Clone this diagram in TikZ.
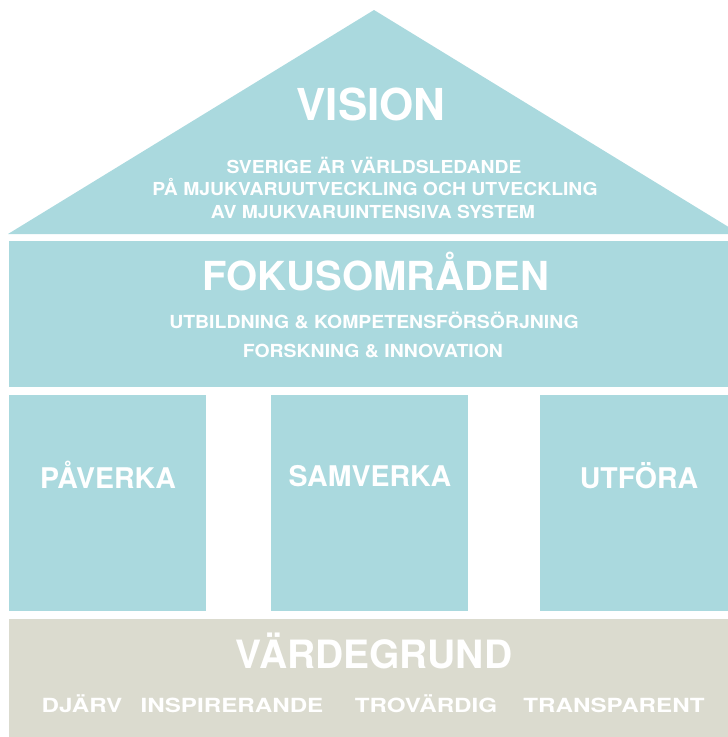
\documentclass[tikz,border=0pt]{standalone}
\usepackage{fontspec}
\setmainfont{TeX Gyre Heros}
\newfontfamily\linefont{TeX Gyre Heros}[FakeStretch=1.08]
\newfontfamily\valuefont{TeX Gyre Heros}[FakeStretch=1.24]
\definecolor{houseblue}{HTML}{AAD9DE}
\definecolor{basegray}{HTML}{DBDBCF}

\begin{document}
\begin{tikzpicture}[x=1pt,y=-1pt,
  part/.style={fill=houseblue},
  label/.style={anchor=base,text=white,inner sep=0,font=\bfseries\fontsize{#1}{#1}\selectfont},
  line/.style={anchor=base,text=white,inner sep=0,font=\linefont\bfseries\fontsize{#1}{#1}\selectfont},
  value/.style={anchor=base,text=white,inner sep=0,font=\valuefont\bfseries\fontsize{19.5}{19.5}\selectfont}]
\useasboundingbox (0,0) rectangle (728,737);
\clip (0,0) rectangle (728,737);
% roof, beam, pillars, ground
\fill[part] (8,234) -- (374,10) -- (740,234) -- cycle;
\fill[part] (9,241) rectangle (730,387);
\foreach \xa/\xb in {9/206, 271/468, 540/730}
 \fill[part] (\xa,395) rectangle (\xb,611);
\fill[basegray] (9,619) rectangle (730,737);
% vision
\node[label=44] (vision) at (371,120) {VISION};
\node[line=17.9] (visa) at (374,173) {SVERIGE ÄR VÄRLDSLEDANDE};
\node[line=17.9] (visb) at (375,195) {PÅ MJUKVARUUTVECKLING OCH UTVECKLING};
\node[line=17.9] (visc) at (373,218) {AV MJUKVARUINTENSIVA SYSTEM};
% fokus
\node[label=40] (fokus) at (376,290) {FOKUSOMRÅDEN};
\node[line=18] (fokusa) at (374,328) {UTBILDNING \& KOMPETENSFÖRSÖRJNING};
\node[line=18] (fokusb) at (373,357) {FORSKNING \& INNOVATION};
% pillars
\node[label=28.5] (paverka) at (108,488) {PÅVERKA};
\node[label=28.5] (samverka) at (370,486) {SAMVERKA};
\node[label=28.5] (utfora) at (639,488) {UTFÖRA};
% ground
\node[label=39] (varde) at (374,668) {VÄRDEGRUND};
\foreach \x/\v [count=\i] in {82/DJÄRV, 232/INSPIRERANDE, 426/TROVÄRDIG, 614/TRANSPARENT}
 \node[value] (value\i) at (\x,712) {\v};
\end{tikzpicture}
\end{document}
